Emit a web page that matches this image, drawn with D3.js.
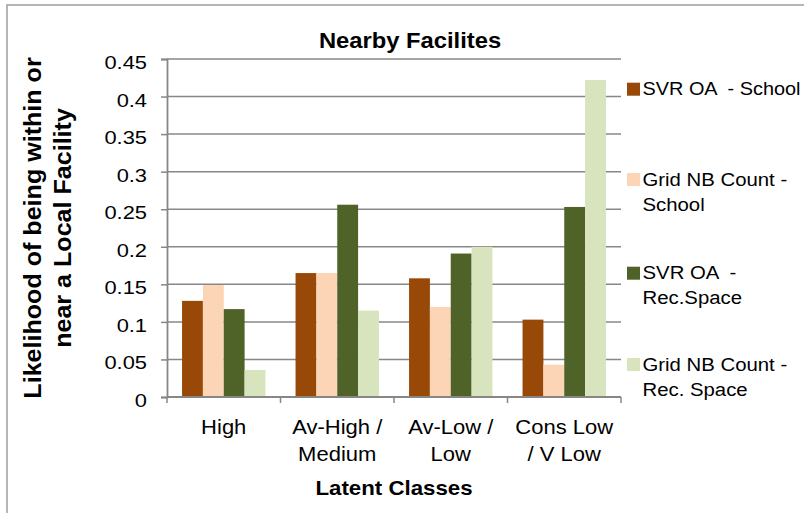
<!DOCTYPE html>
<html>
<head>
<meta charset="utf-8">
<script src="https://cdn.jsdelivr.net/npm/d3@7"></script>
<style>
  html, body { margin: 0; padding: 0; background: #fff; }
  svg { display: block; font-family: "Liberation Sans", Arial, Helvetica, sans-serif; }
</style>
</head>
<body>
<svg id="chart" width="804" height="513"></svg>
<script>
// Latent class categories (each entry is the wrapped label lines)
const categories = [
  ["High"],
  ["Av-High /", "Medium"],
  ["Av-Low /", "Low"],
  ["Cons Low", "/ V Low"]
];

// Series names as shown in the legend (wrapped lines)
const seriesLabels = [
  ["SVR OA  - School"],
  ["Grid NB Count -", "School"],
  ["SVR OA  -", "Rec.Space"],
  ["Grid NB Count -", "Rec. Space"]
];

// Likelihood values per series, one per latent class
const svrSchool  = [0.128, 0.165, 0.158, 0.103];
const gridSchool = [0.149, 0.165, 0.120, 0.043];
const svrRec     = [0.117, 0.256, 0.191, 0.253];
const gridRec    = [0.036, 0.115, 0.200, 0.422];

const seriesValues = [svrSchool, gridSchool, svrRec, gridRec];
const seriesColors = ["#984807", "#FBD5B5", "#4F6228", "#D7E4BD"];

const yTicks = [0, 0.05, 0.1, 0.15, 0.2, 0.25, 0.3, 0.35, 0.4, 0.45];
const yTickLabels = ["0", "0.05", "0.1", "0.15", "0.2", "0.25", "0.3", "0.35", "0.4", "0.45"];

const chartTitle = "Nearby Facilites";
const xTitle = "Latent Classes";
const yTitleLines = ["Likelihood of being  within or", "near a Local Facility"];

const svg = d3.select("#chart");
const plot = { left: 167, right: 621, top: 59, bottom: 397 };
const gridColor = "#878787";

// stretch text horizontally to the wider face used by the chart's renderer
function widen(sel, k, maxW) {
  sel.each(function () {
    let w = this.getComputedTextLength() * k;
    if (maxW && w > maxW) w = maxW;
    this.setAttribute("textLength", w);
    this.setAttribute("lengthAdjust", "spacingAndGlyphs");
  });
}

// chart frame
svg.append("rect")
  .attr("x", 7).attr("y", 5).attr("width", 900).attr("height", 700)
  .attr("fill", "none").attr("stroke", "#a3a3a3").attr("stroke-width", 1.6);

const idx = categories.map((_, i) => i);
const x0 = d3.scaleBand().domain(idx).range([plot.left, plot.right]).paddingInner(0).paddingOuter(0);
const x1 = d3.scaleBand().domain(d3.range(seriesValues.length)).range([0, x0.bandwidth()])
  .paddingInner(0).paddingOuter(0.722);
const y = d3.scaleLinear().domain([0, 0.45]).range([plot.bottom, plot.top]);

// horizontal gridlines
svg.append("g").selectAll("line").data(yTicks.filter(d => d > 0)).join("line")
  .attr("x1", plot.left).attr("x2", plot.right)
  .attr("y1", d => y(d)).attr("y2", d => y(d))
  .attr("stroke", gridColor).attr("stroke-width", 1.5);

// bars
const groups = svg.append("g").selectAll("g").data(idx).join("g")
  .attr("transform", i => `translate(${x0(i)},0)`);
groups.selectAll("rect")
  .data(i => seriesValues.map((vals, s) => ({ s, v: vals[i] })))
  .join("rect")
  .attr("x", d => x1(d.s))
  .attr("width", x1.bandwidth())
  .attr("y", d => y(d.v))
  .attr("height", d => y(0) - y(d.v))
  .attr("fill", d => seriesColors[d.s]);

// y axis
const yAxis = d3.axisLeft(y).tickValues(yTicks)
  .tickFormat((d, i) => yTickLabels[i]).tickSize(6).tickPadding(14);
const gy = svg.append("g").attr("transform", `translate(${plot.left},0)`).call(yAxis);
gy.select(".domain").attr("stroke", gridColor).attr("stroke-width", 1.8);
gy.selectAll(".tick line").attr("stroke", gridColor).attr("stroke-width", 1.5);
gy.selectAll(".tick text")
  .attr("font-size", 19).attr("fill", "#000").attr("font-family", null)
  .attr("dy", "0.5em");
widen(gy.selectAll(".tick text"), 1.15);

// x axis line with category boundary ticks
const gx = svg.append("g");
gx.append("line")
  .attr("x1", plot.left).attr("x2", plot.right)
  .attr("y1", plot.bottom).attr("y2", plot.bottom)
  .attr("stroke", gridColor).attr("stroke-width", 1.8);
const bounds = idx.map(i => x0(i)).concat([x0(idx[idx.length - 1]) + x0.bandwidth()]);
gx.selectAll("line.tk").data(bounds).join("line").attr("class", "tk")
  .attr("x1", d => d).attr("x2", d => d)
  .attr("y1", plot.bottom).attr("y2", plot.bottom + 6)
  .attr("stroke", gridColor).attr("stroke-width", 1.5);

// category labels
const catG = svg.append("g");
categories.forEach((lines, i) => {
  const cx = x0(i) + x0.bandwidth() / 2;
  lines.forEach((ln, j) => {
    const t = catG.append("text")
      .attr("x", cx).attr("y", 433.5 + j * 27)
      .attr("text-anchor", "middle").attr("font-size", 20).attr("fill", "#000")
      .text(ln);
    widen(t, 1.1);
  });
});

// titles
const title = svg.append("text")
  .attr("x", 410).attr("y", 48).attr("text-anchor", "middle")
  .attr("font-size", 22).attr("font-weight", "bold").text(chartTitle);
widen(title, 1.08);

const xt = svg.append("text")
  .attr("x", (plot.left + plot.right) / 2).attr("y", 495).attr("text-anchor", "middle")
  .attr("font-size", 21).attr("font-weight", "bold").text(xTitle);
widen(xt, 1.06);

const yMid = (plot.top + plot.bottom) / 2;
yTitleLines.forEach((ln, j) => {
  const t = svg.append("text")
    .attr("transform", `translate(${41 + j * 29.5},${yMid}) rotate(-90)`)
    .attr("text-anchor", "middle")
    .attr("font-size", 24).attr("font-weight", "bold").text(ln);
  widen(t, 1.045);
});

// legend
const legTop = [82.7, 173, 266.7, 358];
const leg = svg.append("g");
seriesLabels.forEach((lines, s) => {
  leg.append("rect")
    .attr("x", 627).attr("y", legTop[s]).attr("width", 13).attr("height", 13)
    .attr("fill", seriesColors[s]);
  lines.forEach((ln, j) => {
    const t = leg.append("text")
      .attr("x", 642.5).attr("y", legTop[s] + 12.5 + j * 25)
      .attr("font-size", 18).attr("fill", "#000")
      .attr("xml:space", "preserve").style("white-space", "pre")
      .text(ln);
    widen(t, 1.13, 158);
  });
});
</script>
</body>
</html>
